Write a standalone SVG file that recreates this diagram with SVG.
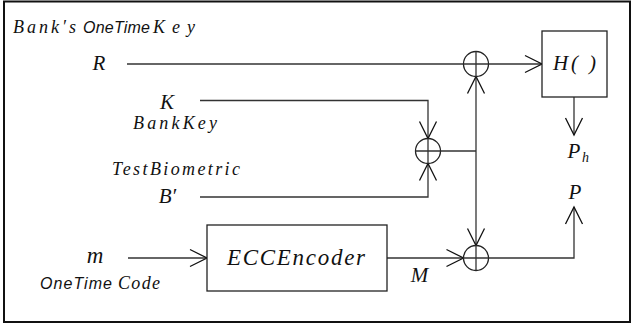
<svg xmlns="http://www.w3.org/2000/svg" width="632" height="329" viewBox="0 0 632 329">
<style>
.frame{fill:none;stroke:#111;stroke-width:2}
.box{fill:#fff;stroke:#222;stroke-width:1.3}
.ln{fill:none;stroke:#333;stroke-width:1.3}
.xor{fill:#fff;stroke:#222;stroke-width:1.3}
</style>
<defs>
<marker id="arr" markerUnits="userSpaceOnUse" viewBox="-20 -10 22 20" markerWidth="22" markerHeight="20" refX="0" refY="0" orient="auto">
<path d="M-17,-8.5 L0,0 L-17,8.5" fill="none" stroke="#111" stroke-width="1.3"/>
</marker>
</defs>
<rect class="frame" x="4" y="1.5" width="626" height="320.5"/>
<g id="connectors">
<line class="ln" x1="127" y1="64" x2="463.5" y2="64"/>
<line class="ln" x1="488.5" y1="64" x2="542" y2="64" marker-end="url(#arr)"/>
<line class="ln" x1="574" y1="97" x2="574" y2="135" marker-end="url(#arr)"/>
<polyline class="ln" points="200,100.5 428,100.5 428,138.5" marker-end="url(#arr)"/>
<polyline class="ln" points="200,197 428,197 428,163.5" marker-end="url(#arr)"/>
<line class="ln" x1="440.5" y1="151" x2="476" y2="151"/>
<line class="ln" x1="476" y1="151" x2="476" y2="76.5" marker-end="url(#arr)"/>
<line class="ln" x1="476" y1="151" x2="476" y2="245.5" marker-end="url(#arr)"/>
<line class="ln" x1="128" y1="258" x2="207" y2="258" marker-end="url(#arr)"/>
<line class="ln" x1="387" y1="258" x2="463.5" y2="258" marker-end="url(#arr)"/>
<polyline class="ln" points="488.5,258 574,258 574,207" marker-end="url(#arr)"/>
</g>
<g id="xor-top">
<circle class="xor" cx="476" cy="64" r="12.5"/>
<path class="ln" d="M463.5,64 H488.5 M476,51.5 V76.5"/>
</g>
<g id="xor-mid">
<circle class="xor" cx="428" cy="151" r="12.5"/>
<path class="ln" d="M415.5,151 H440.5 M428,138.5 V163.5"/>
</g>
<g id="xor-bot">
<circle class="xor" cx="476" cy="258" r="12.5"/>
<path class="ln" d="M463.5,258 H488.5 M476,245.5 V270.5"/>
</g>
<g id="hash" font-family="Liberation Serif, serif" font-style="italic" fill="#111">
<rect class="box" x="542" y="31" width="65" height="66"/>
<text x="553" y="70" font-size="21" textLength="43" lengthAdjust="spacing">H( )</text>
</g>
<g id="ecc" font-family="Liberation Serif, serif" font-style="italic" fill="#111">
<rect class="box" x="207" y="225" width="180" height="66"/>
<text x="227" y="265" font-size="23" textLength="138" lengthAdjust="spacing">ECCEncoder</text>
</g>
<g id="labels" font-family="Liberation Serif, serif" font-style="italic" fill="#111">
<text x="13" y="33" font-size="18" textLength="63" lengthAdjust="spacing">Bank′s</text>
<text x="83" y="33" font-size="16" font-family="Liberation Sans, sans-serif" textLength="67" lengthAdjust="spacing">OneTime</text>
<text x="153" y="33" font-size="18" textLength="42" lengthAdjust="spacing">Key</text>
<text x="99" y="70" font-size="21" text-anchor="middle">R</text>
<text x="167" y="109" font-size="21" text-anchor="middle">K</text>
<text x="133" y="129" font-size="18" textLength="84" lengthAdjust="spacing">BankKey</text>
<text x="112" y="175" font-size="18" textLength="128" lengthAdjust="spacing">TestBiometric</text>
<text x="167.5" y="203" font-size="21" text-anchor="middle">B′</text>
<text x="95" y="263" font-size="23" text-anchor="middle">m</text>
<text x="40" y="289" font-size="16" font-family="Liberation Sans, sans-serif" textLength="72" lengthAdjust="spacing">OneTime</text>
<text x="118" y="289" font-size="18" textLength="42" lengthAdjust="spacing">Code</text>
<text x="419.5" y="282" font-size="21" text-anchor="middle">M</text>
<text x="575" y="199" font-size="21" text-anchor="middle">P</text>
<text x="574" y="158" font-size="21" text-anchor="middle">P</text>
<text x="582" y="162" font-size="14">h</text>
</g>
</svg>
